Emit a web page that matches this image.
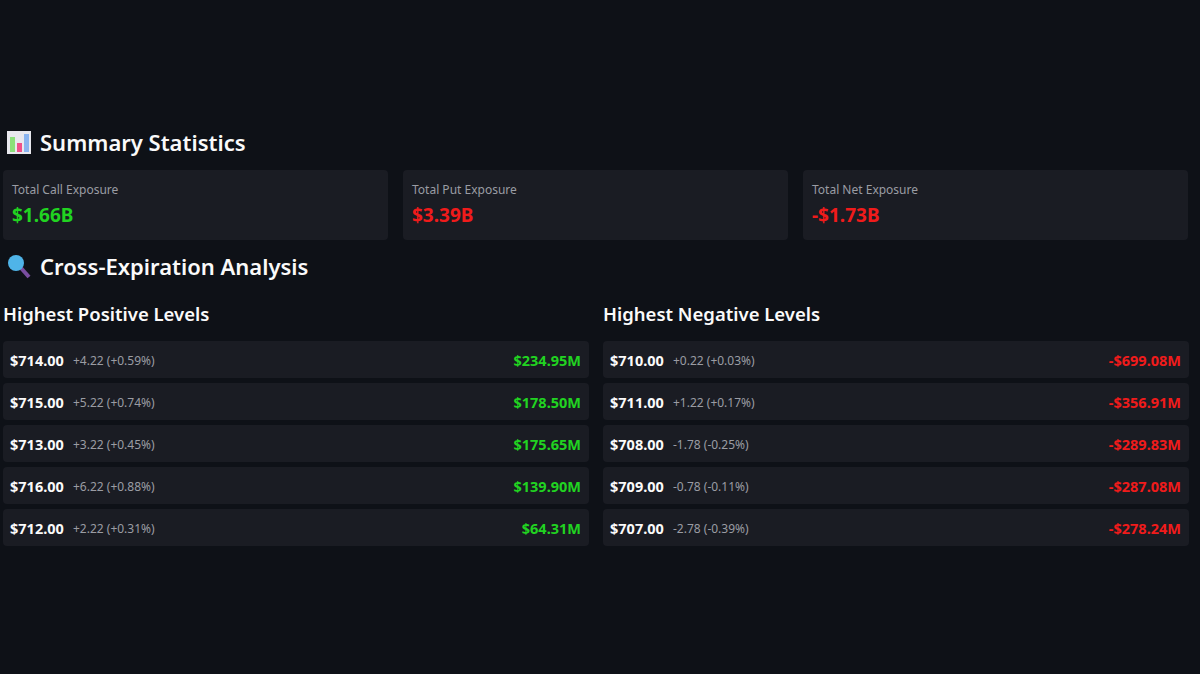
<!DOCTYPE html>
<html>
<head>
<meta charset="utf-8">
<script src="https://cdn.jsdelivr.net/npm/chart.js"></script>
<style>
  body { margin: 0; background: #0e1117; color: #fafafa; font-family: "Noto Sans", "Open Sans", sans-serif; width: 1200px; height: 674px; overflow: hidden; position: relative; }
  .h2 { position: absolute; left: 6px; font-size: 22px; font-weight: 600; display: flex; align-items: center; gap: 8px; }
  .icon { display: inline-block; width: 26px; height: 26px; }
  .card { position: absolute; top: 170px; width: 385px; height: 70px; background: #1a1c23; border-radius: 4px; }
  .card .lbl { position: absolute; left: 9px; top: 11px; font-size: 12px; color: #9a9ca3; }
  .card .val { position: absolute; left: 9px; top: 32px; font-size: 19px; font-weight: 700; }
  .h3 { position: absolute; top: 301px; font-size: 18.5px; font-weight: 600; }
  .row { position: absolute; width: 586px; height: 37px; background: #1a1c23; border-radius: 4px; }
  .row .p { position: absolute; left: 7px; top: 9px; font-size: 14.5px; font-weight: 700; }
  .row .c { position: absolute; left: 70px; top: 11px; font-size: 12px; color: #9a9ca3; }
  .row .v { position: absolute; right: 8px; top: 9px; font-size: 14.5px; font-weight: 700; }
  .g { color: #21d321; } .r { color: #f01b1b; }
</style>
</head>
<body>
<script>
const spot = 709.78;
const summaryLabels = ["Total Call Exposure", "Total Put Exposure", "Total Net Exposure"];
const summaryValues = ["$1.66B", "$3.39B", "-$1.73B"];
const posStrikes = [714, 715, 713, 716, 712];
const posValues = ["$234.95M", "$178.50M", "$175.65M", "$139.90M", "$64.31M"];
const negStrikes = [710, 711, 708, 709, 707];
const negValues = ["-$699.08M", "-$356.91M", "-$289.83M", "-$287.08M", "-$278.24M"];

function el(cls, html, style) {
  const d = document.createElement("div");
  d.className = cls; d.innerHTML = html;
  if (style) Object.assign(d.style, style);
  document.body.appendChild(d);
  return d;
}

// icons drawn in small canvases
const barIcon = '<canvas class="icon" id="ic1" width="26" height="26"></canvas>';
const magIcon = '<canvas class="icon" id="ic2" width="26" height="26"></canvas>';
el("h2", barIcon + "Summary Statistics", { top: "127px" });
el("h2", magIcon + "Cross-Expiration Analysis", { top: "251px" });

let c = document.getElementById("ic1").getContext("2d");
c.fillStyle = "#e8e8ee"; c.fillRect(1, 2, 24, 23);
c.fillStyle = "#8ce07a"; c.fillRect(4, 8, 5, 15);
c.fillStyle = "#f0508a"; c.fillRect(11, 14, 5, 9);
c.fillStyle = "#8ab4f0"; c.fillRect(18, 5, 5, 18);
c = document.getElementById("ic2").getContext("2d");
c.strokeStyle = "#7a4ea0"; c.lineWidth = 4; c.beginPath(); c.moveTo(15, 15); c.lineTo(23, 24); c.stroke();
c.fillStyle = "#4fb4e8"; c.beginPath(); c.arc(10, 10, 8, 0, 7); c.fill();

summaryLabels.forEach((l, i) => {
  const card = el("card", '<div class="lbl">' + l + '</div><div class="val ' + (i === 0 ? "g" : "r") + '">' + summaryValues[i] + '</div>', { left: (3 + i * 400) + "px" });
});

el("h3", "Highest Positive Levels", { left: "3px" });
el("h3", "Highest Negative Levels", { left: "603px" });

function chg(s) {
  const d = s - spot, p = d / spot * 100;
  return (d >= 0 ? "+" : "") + d.toFixed(2) + " (" + (p >= 0 ? "+" : "") + p.toFixed(2) + "%)";
}
function rows(strikes, vals, left, cls) {
  strikes.forEach((s, i) => {
    el("row", '<span class="p">$' + s.toFixed(2) + '</span><span class="c">' + chg(s) + '</span><span class="v ' + cls + '">' + vals[i] + '</span>',
      { left: left + "px", top: (341 + i * 42) + "px" });
  });
}
rows(posStrikes, posValues, 3, "g");
rows(negStrikes, negValues, 603, "r");
</script>
</body>
</html>
